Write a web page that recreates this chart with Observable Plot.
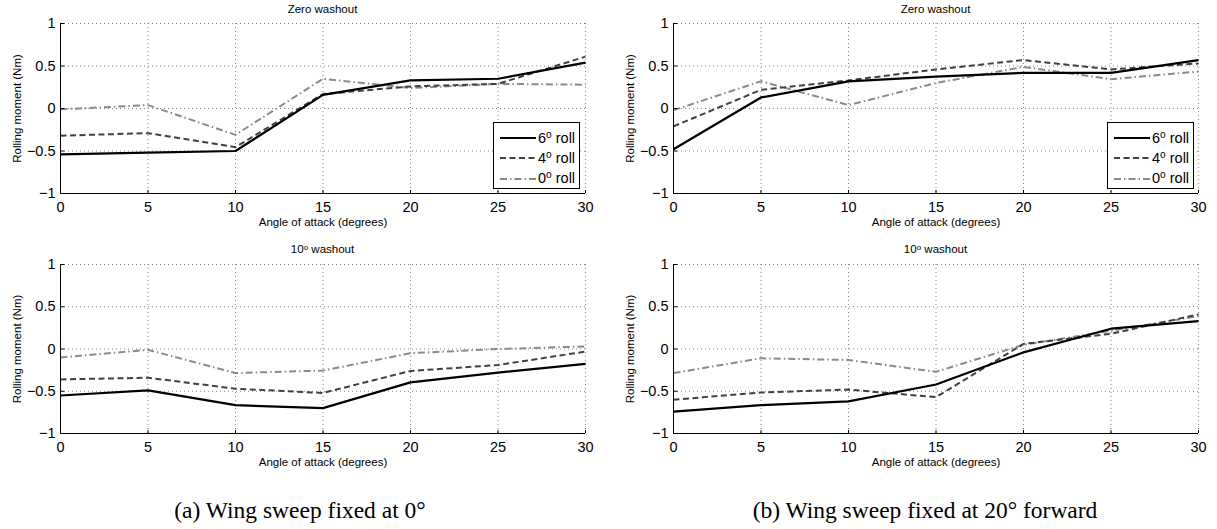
<!DOCTYPE html>
<html>
<head>
<meta charset="utf-8">
<script src="https://cdn.jsdelivr.net/npm/d3@7"></script>
<script src="https://cdn.jsdelivr.net/npm/@observablehq/plot@0.6"></script>
<style>
  html, body { margin: 0; padding: 0; background: #fff; }
  #root { position: relative; width: 1217px; height: 529px; overflow: hidden; font-family: "Liberation Sans", Arial, sans-serif; color: #000; }
  .panel { position: absolute; }
  .title { position: absolute; font-size: 11.5px; transform: translate(-50%, -50%); white-space: nowrap; line-height: 1; }
  .title sup, .legend sup { font-size: 0.7em; vertical-align: 0.45em; line-height: 0; }
  .legend { position: absolute; box-sizing: border-box; border: 1.3px solid #000; background: #fff; }
  .legend .row { position: absolute; left: 6px; display: flex; align-items: center; font-size: 14.5px; white-space: nowrap; line-height: 1; }
  .legend svg { display: block; margin-right: 2px; }
  .caption { position: absolute; top: 511px; transform: translate(-50%, -50%); font-family: "Liberation Serif", "DejaVu Serif", serif; font-size: 23.5px; white-space: nowrap; line-height: 1; }
</style>
</head>
<body>
<div id="root"></div>
<script>
// ---- data ----
const angles = [0, 5, 10, 15, 20, 25, 30];
const xTicks = [0, 5, 10, 15, 20, 25, 30];
const yTicks = [-1, -0.5, 0, 0.5, 1];
const seriesNames = ["6", "4", "0"]; // roll angle in degrees
const panelTitles = ["Zero washout", "10° washout"];
const captions = ["(a) Wing sweep fixed at 0°", "(b) Wing sweep fixed at 20° forward"];
const xLabel = "Angle of attack (degrees)";
const yLabel = "Rolling moment (Nm)";

// (a) sweep 0°, zero washout
const a_zero_6 = [-0.54, -0.52, -0.50, 0.16, 0.33, 0.35, 0.54];
const a_zero_4 = [-0.32, -0.29, -0.455, 0.17, 0.26, 0.29, 0.61];
const a_zero_0 = [-0.01, 0.04, -0.31, 0.35, 0.24, 0.29, 0.28];
// (a) sweep 0°, 10° washout
const a_wash_6 = [-0.55, -0.49, -0.665, -0.70, -0.395, -0.28, -0.176];
const a_wash_4 = [-0.36, -0.34, -0.47, -0.52, -0.26, -0.19, -0.03];
const a_wash_0 = [-0.10, -0.01, -0.285, -0.255, -0.05, 0.0, 0.03];
// (b) sweep 20° forward, zero washout
const b_zero_6 = [-0.48, 0.13, 0.32, 0.376, 0.42, 0.42, 0.57];
const b_zero_4 = [-0.21, 0.22, 0.33, 0.46, 0.57, 0.46, 0.53];
const b_zero_0 = [-0.02, 0.32, 0.04, 0.30, 0.49, 0.345, 0.435];
// (b) sweep 20° forward, 10° washout
const b_wash_6 = [-0.74, -0.665, -0.62, -0.42, -0.04, 0.24, 0.33];
const b_wash_4 = [-0.60, -0.515, -0.48, -0.57, 0.06, 0.18, 0.41];
const b_wash_0 = [-0.285, -0.11, -0.13, -0.27, 0.05, 0.215, 0.39];

// ---- styles ----
const seriesStyle = {
  "6": { stroke: "#000000", dash: null, width: 2.2 },
  "4": { stroke: "#404040", dash: "6,3.5", width: 2 },
  "0": { stroke: "#8a8a8a", dash: "7,3,1.5,3", width: 2 }
};

const root = document.getElementById("root");
const fmt = d => (d < 0 ? "\u2212" : "") + String(Math.abs(d));

function toRows(vals) { return angles.map((a, i) => ({ angle: a, moment: vals[i] })); }

function makePanel(opts) {
  const { left, top, width, height, mL, mR, mT, mB, s6, s4, s0 } = opts;
  const lines = [["0", s0], ["4", s4], ["6", s6]].map(([k, v]) => {
    const st = seriesStyle[k];
    return Plot.line(toRows(v), {
      x: "angle", y: "moment", stroke: st.stroke, strokeWidth: st.width,
      strokeDasharray: st.dash || undefined, strokeLinejoin: "miter", strokeLinecap: "butt"
    });
  });
  const svg = Plot.plot({
    width, height, marginLeft: mL, marginRight: mR, marginTop: mT, marginBottom: mB,
    style: { fontFamily: "'Liberation Sans', Arial, sans-serif", fontSize: "14.5px", background: "transparent", color: "#000", overflow: "visible" },
    x: { domain: [0, 30], label: null },
    y: { domain: [-1, 1], label: null },
    marks: [
      Plot.gridX(xTicks, { stroke: "#666", strokeOpacity: 1, strokeWidth: 0.8, strokeDasharray: "1,3" }),
      Plot.gridY(yTicks, { stroke: "#666", strokeOpacity: 1, strokeWidth: 0.8, strokeDasharray: "1,3" }),
      ...lines,
      Plot.axisX(xTicks, { tickSize: 0, tickPadding: 8, tickFormat: fmt, label: null }),
      Plot.axisY(yTicks, { tickSize: 0, tickPadding: 5, tickFormat: fmt, label: null }),
      Plot.ruleX([0], { stroke: "#000", strokeWidth: 1 }),
      Plot.ruleY([-1], { stroke: "#000", strokeWidth: 1 }),
      Plot.ruleX(xTicks, { x: d => d, y1: -1, y2: -0.965, stroke: "#000", strokeWidth: 1 }),
      Plot.ruleY(yTicks, { y: d => d, x1: 0, x2: 0.25, stroke: "#000", strokeWidth: 1 }),
      Plot.text([xLabel], { frameAnchor: "bottom", dy: 29, fontSize: 11.5, lineAnchor: "middle", textAnchor: "middle" }),
      Plot.text([yLabel], { frameAnchor: "left", dx: -43, rotate: -90, fontSize: 11.5, lineAnchor: "middle", textAnchor: "middle" })
    ]
  });
  svg.classList.add("panel");
  svg.style.left = left + "px";
  svg.style.top = top + "px";
  svg.style.position = "absolute";
  root.appendChild(svg);
}

function titleHTML(t) { return t.replace("°", "<sup>o</sup>"); }

function addTitle(text, cx, cy) {
  const d = document.createElement("div");
  d.className = "title";
  d.innerHTML = titleHTML(text);
  d.style.left = cx + "px";
  d.style.top = cy + "px";
  root.appendChild(d);
}

function addLegend(left, top) {
  const lg = document.createElement("div");
  lg.className = "legend";
  lg.style.left = left + "px";
  lg.style.top = top + "px";
  lg.style.width = "87px";
  lg.style.height = "67px";
  seriesNames.forEach((k, i) => {
    const st = seriesStyle[k];
    const row = document.createElement("div");
    row.className = "row";
    row.style.top = (15 + i * 20.3 - 8) + "px";
    row.style.height = "16px";
    row.innerHTML = `<svg width="36" height="6"><line x1="0" x2="36" y1="3" y2="3" stroke="${st.stroke}" stroke-width="${st.width}" ${st.dash ? `stroke-dasharray="${st.dash}"` : ""}/></svg><span>${k}<sup>o</sup> roll</span>`;
    lg.appendChild(row);
  });
  root.appendChild(lg);
}

// top-left
makePanel({ left: 0, top: 0, width: 600, height: 235, mL: 60, mR: 15, mT: 23, mB: 42, s6: a_zero_6, s4: a_zero_4, s0: a_zero_0 });
// top-right
makePanel({ left: 610, top: 0, width: 600, height: 235, mL: 63, mR: 12, mT: 23, mB: 42, s6: b_zero_6, s4: b_zero_4, s0: b_zero_0 });
// bottom-left
makePanel({ left: 0, top: 240, width: 600, height: 235, mL: 60, mR: 15, mT: 24, mB: 42, s6: a_wash_6, s4: a_wash_4, s0: a_wash_0 });
// bottom-right
makePanel({ left: 610, top: 240, width: 600, height: 235, mL: 63, mR: 12, mT: 24, mB: 42, s6: b_wash_6, s4: b_wash_4, s0: b_wash_0 });

addTitle(panelTitles[0], 322.5, 9.5);
addTitle(panelTitles[0], 935.5, 9.5);
addTitle(panelTitles[1], 322.5, 249.5);
addTitle(panelTitles[1], 935.5, 249.5);

addLegend(493, 122);
addLegend(1107, 122);

captions.forEach((c, i) => {
  const d = document.createElement("div");
  d.className = "caption";
  d.textContent = c;
  d.style.left = (i === 0 ? 300 : 925) + "px";
  root.appendChild(d);
});
</script>
</body>
</html>
